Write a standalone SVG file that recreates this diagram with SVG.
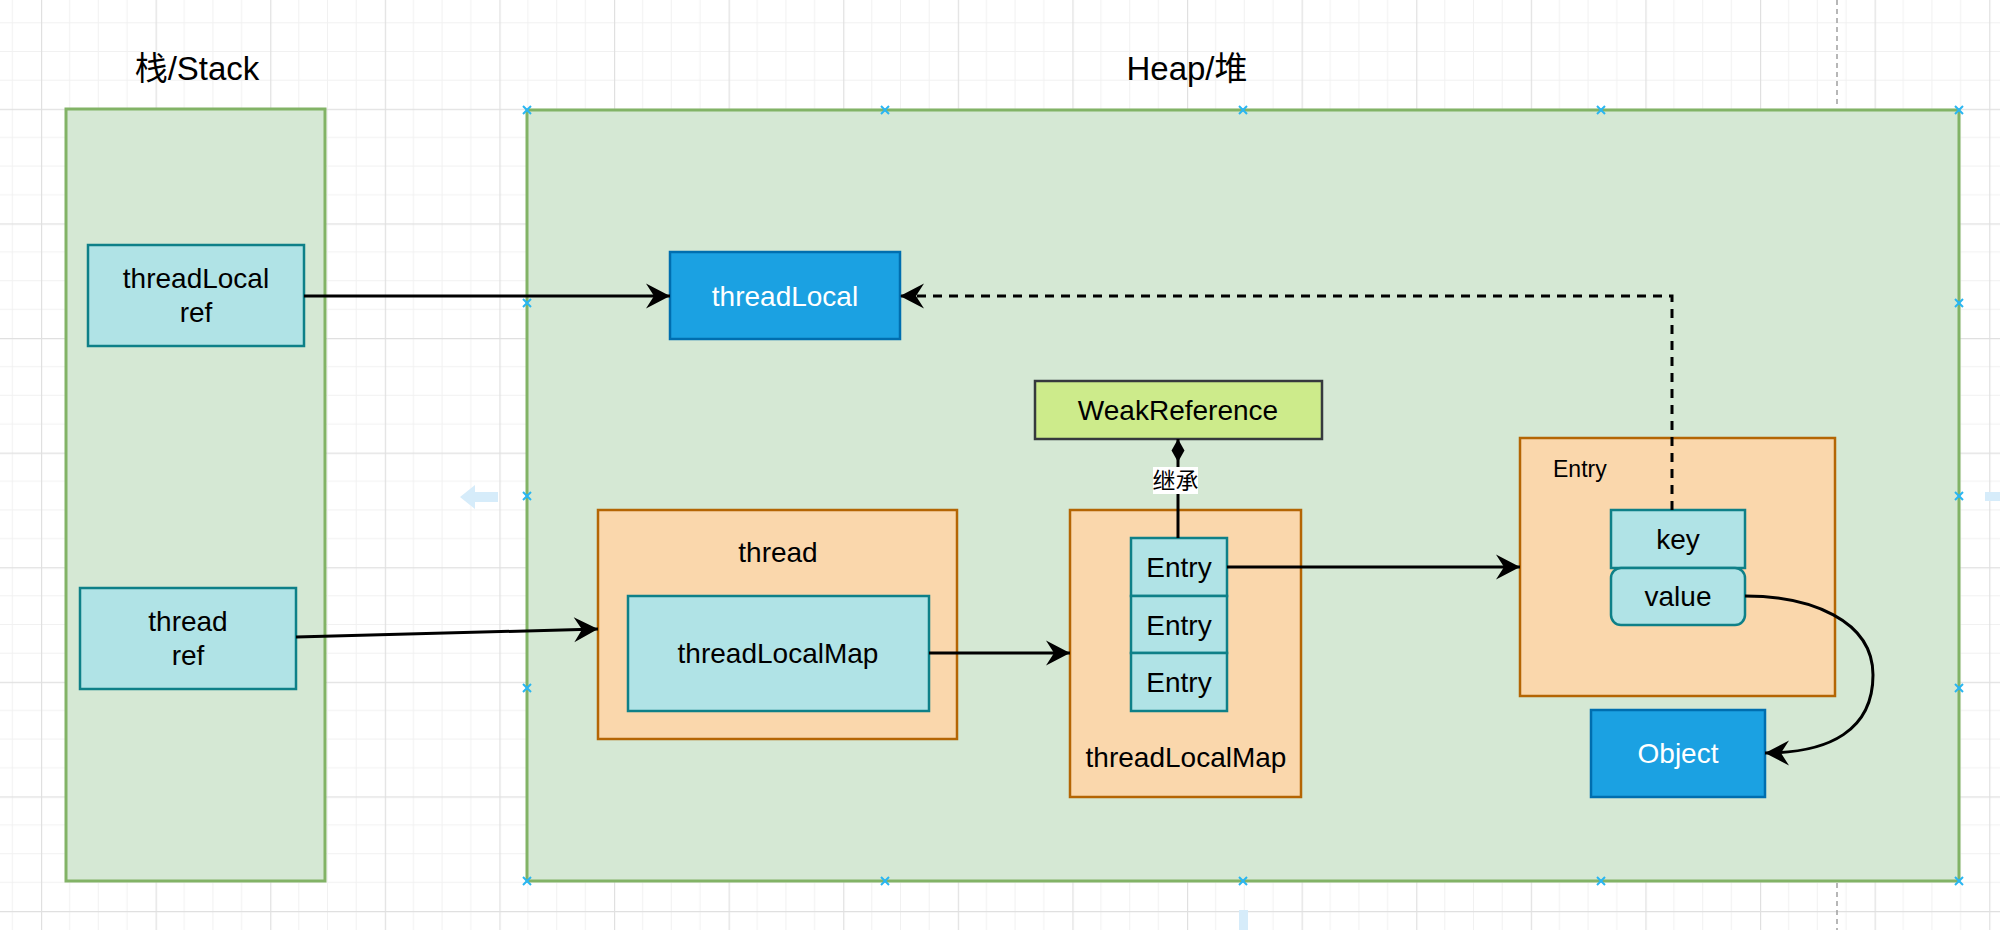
<svg xmlns="http://www.w3.org/2000/svg" width="2000" height="930" viewBox="0 0 2000 930">
<style>
text{font-family:"Liberation Sans","Noto Sans CJK SC",sans-serif;fill:#000;text-anchor:middle}
.t28{font-size:28px}
.t33{font-size:33px}
.t23{font-size:23px}
.w{fill:#fff}
.mem{fill:#d5e8d4;stroke:#82b366;stroke-width:3}
.org{fill:#fad7ac;stroke:#b46504;stroke-width:2.5}
.teal{fill:#b0e3e6;stroke:#0e8088;stroke-width:2.5}
.blue{fill:#1ba1e2;stroke:#006eaf;stroke-width:2.5}
.lime{fill:#cdeb8b;stroke:#36393d;stroke-width:2.5}
.edge{fill:none;stroke:#000;stroke-width:3}
.dash{stroke-dasharray:9 7}
.xm{stroke:#29b6f2;stroke-width:2;fill:none}
.minor{stroke:#f1f1f1;stroke-width:1}
.major{stroke:#e0e0e0;stroke-width:1.2}
</style>
<defs>
<pattern id="grid" x="41" y="-5.8" width="114.6" height="114.6" patternUnits="userSpaceOnUse">
<path class="minor" d="M28.65,0V114.6M57.3,0V114.6M85.95,0V114.6M0,28.65H114.6M0,57.3H114.6M0,85.95H114.6"/>
<path class="major" d="M0.6,0V114.6M0,0.6H114.6"/>
</pattern>
<marker id="arr" viewBox="-26 -14 28 28" refX="0" refY="0" markerWidth="28" markerHeight="28" markerUnits="userSpaceOnUse" orient="auto">
<path d="M0,0 L-24,-12.5 L-16,0 L-24,12.5 Z" fill="#000"/>
</marker>
<marker id="dia" viewBox="-25 -8 27 16" refX="0" refY="0" markerWidth="27" markerHeight="16" markerUnits="userSpaceOnUse" orient="auto">
<path d="M0,0 L-11.5,-6.5 L-23,0 L-11.5,6.5 Z" fill="#000"/>
</marker>
<path id="xmark" d="M-4,-4 L4,4 M-4,4 L4,-4"/>
</defs>

<rect width="2000" height="930" fill="#fff"/>
<rect width="2000" height="930" fill="url(#grid)"/>

<g id="decor">
<path d="M1837,0 V108 M1837,883 V930" stroke="#a0a0a0" stroke-width="1.5" stroke-dasharray="5 4" fill="none"/>
<path d="M498,492 H475 V485 L460,497 L475,509 V502 H498 Z" fill="#d6ecfa"/>
<rect x="1239" y="910" width="9" height="20" fill="#d6ecfa"/>
<rect x="1985" y="492" width="15" height="9" fill="#d6ecfa"/>
</g>

<g id="stack">
<rect class="mem" x="66" y="109" width="259" height="772"/>
<text class="t33" x="197" y="80">栈/Stack</text>
</g>

<g id="heap">
<rect class="mem" x="527" y="110" width="1432" height="771"/>
<text class="t33" x="1187" y="80">Heap/堆</text>
</g>

<g id="heap-points">
<use href="#xmark" class="xm" x="527" y="110"/>
<use href="#xmark" class="xm" x="885" y="110"/>
<use href="#xmark" class="xm" x="1243" y="110"/>
<use href="#xmark" class="xm" x="1601" y="110"/>
<use href="#xmark" class="xm" x="1959" y="110"/>
<use href="#xmark" class="xm" x="527" y="303"/>
<use href="#xmark" class="xm" x="527" y="496"/>
<use href="#xmark" class="xm" x="527" y="688"/>
<use href="#xmark" class="xm" x="527" y="881"/>
<use href="#xmark" class="xm" x="1959" y="303"/>
<use href="#xmark" class="xm" x="1959" y="496"/>
<use href="#xmark" class="xm" x="1959" y="688"/>
<use href="#xmark" class="xm" x="1959" y="881"/>
<use href="#xmark" class="xm" x="885" y="881"/>
<use href="#xmark" class="xm" x="1243" y="881"/>
<use href="#xmark" class="xm" x="1601" y="881"/>
</g>

<g id="threadLocalRef">
<rect class="teal" x="88" y="245" width="216" height="101"/>
<text class="t28" x="196" y="288">threadLocal</text>
<text class="t28" x="196" y="322">ref</text>
</g>

<g id="threadRef">
<rect class="teal" x="80" y="588" width="216" height="101"/>
<text class="t28" x="188" y="631">thread</text>
<text class="t28" x="188" y="665">ref</text>
</g>

<g id="threadLocal">
<rect class="blue" x="670" y="252" width="230" height="87"/>
<text class="t28 w" x="785" y="306">threadLocal</text>
</g>

<g id="weakReference">
<rect class="lime" x="1035" y="381" width="287" height="58"/>
<text class="t28" x="1178" y="420">WeakReference</text>
</g>

<g id="thread">
<rect class="org" x="598" y="510" width="359" height="229"/>
<text class="t28" x="778" y="562">thread</text>
</g>

<g id="threadLocalMapField">
<rect class="teal" x="628" y="596" width="301" height="115"/>
<text class="t28" x="778" y="663">threadLocalMap</text>
</g>

<g id="threadLocalMap">
<rect class="org" x="1070" y="510" width="231" height="287"/>
<text class="t28" x="1186" y="767">threadLocalMap</text>
</g>

<g id="entry1">
<rect class="teal" x="1131" y="538" width="96" height="58"/>
<text class="t28" x="1179" y="577">Entry</text>
</g>
<g id="entry2">
<rect class="teal" x="1131" y="596" width="96" height="57"/>
<text class="t28" x="1179" y="635">Entry</text>
</g>
<g id="entry3">
<rect class="teal" x="1131" y="653" width="96" height="58"/>
<text class="t28" x="1179" y="692">Entry</text>
</g>

<g id="entry">
<rect class="org" x="1520" y="438" width="315" height="258"/>
<text class="t23" x="1553" y="477" style="text-anchor:start">Entry</text>
</g>

<g id="key">
<rect class="teal" x="1611" y="510" width="134" height="58"/>
<text class="t28" x="1678" y="549">key</text>
</g>

<g id="value">
<rect class="teal" x="1611" y="568" width="134" height="57" rx="10" ry="10"/>
<text class="t28" x="1678" y="606">value</text>
</g>

<g id="object">
<rect class="blue" x="1591" y="710" width="174" height="87"/>
<text class="t28 w" x="1678" y="763">Object</text>
</g>

<g id="connectors">
<path class="edge" d="M304,296 L670,296" marker-end="url(#arr)"/>
<path class="edge" d="M296,637 L598,629" marker-end="url(#arr)"/>
<path class="edge" d="M929,653 L1070,653" marker-end="url(#arr)"/>
<path class="edge" d="M1227,567 L1520,567" marker-end="url(#arr)"/>
<path class="edge dash" d="M1672,510 L1672,296 L900,296" marker-end="url(#arr)"/>
<path class="edge" d="M1178,538 L1178,439" marker-end="url(#dia)"/>
<rect x="1153" y="467" width="45" height="27" fill="#fff"/>
<text class="t23" x="1175.5" y="489">继承</text>
<path class="edge" d="M1745,596 C1810,596 1873,620 1873,675 C1873,730 1830,753 1765,753" marker-end="url(#arr)"/>
</g>
</svg>
